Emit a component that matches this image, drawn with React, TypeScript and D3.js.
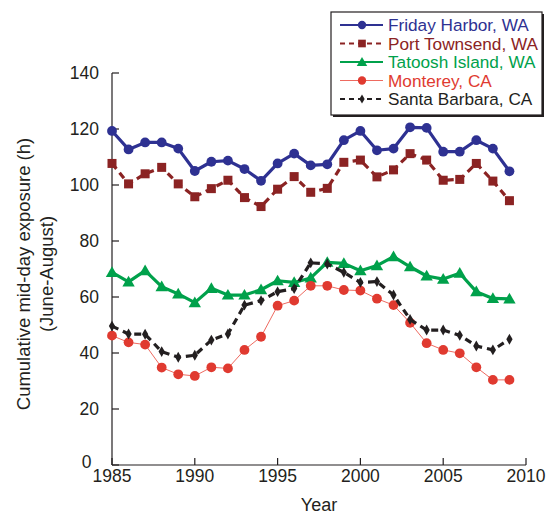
import React from "react";
import * as d3 from "d3";

const years = d3.range(1985, 2010);
const fridayHarbor = [119.3, 112.7, 115.2, 115.2, 113, 105, 108.3, 108.7, 105.7, 101.5, 107.7, 111.2, 107, 107.4, 116, 119.3, 112.4, 113, 120.6, 120.4, 111.9, 111.9, 116, 113, 104.9];
const portTownsend = [107.7, 100.4, 104, 106.3, 100.4, 95.8, 98.7, 101.7, 95.5, 92.3, 98.5, 103, 97.4, 98.8, 108.1, 108.9, 102.9, 105.4, 111.2, 108.9, 101.7, 102, 107.7, 101.4, 94.4];
const tatoosh = [68.8, 65.4, 69.4, 63.7, 61.1, 58, 63.1, 60.7, 60.7, 62.6, 65.8, 65.2, 66.8, 72.4, 72, 69.4, 71.2, 74.4, 70.8, 67.5, 66.4, 68.5, 61.9, 59.5, 59.3];
const monterey = [46.2, 43.8, 43, 34.8, 32.4, 31.8, 34.9, 34.5, 41.1, 45.8, 56.9, 58.7, 64, 64, 62.5, 62.3, 59.4, 57.1, 50.8, 43.5, 41.1, 39.9, 34.9, 30.4, 30.4];
const santaBarbara = [49.6, 46.8, 46.7, 40.5, 38.5, 39.2, 44.6, 46.8, 57.1, 58.7, 61.9, 63, 72.2, 71.8, 68.8, 65.2, 65.5, 60.7, 52, 48.2, 48.2, 46.3, 42.5, 41.1, 44.9];
const xTicks = [1985, 1990, 1995, 2000, 2005, 2010];
const yTicks = [0, 20, 40, 60, 80, 100, 120, 140];

type Series = { name: string; values: number[]; color: string; lineColor: string; width: number; dash?: string; marker: string };

const series: Series[] = [
  { name: "Friday Harbor, WA", values: fridayHarbor, color: "#2E3192", lineColor: "#2E3192", width: 3.2, marker: "circle" },
  { name: "Port Townsend, WA", values: portTownsend, color: "#8B2323", lineColor: "#8B2323", width: 3.2, dash: "7,5", marker: "square" },
  { name: "Tatoosh Island, WA", values: tatoosh, color: "#00A14B", lineColor: "#00A14B", width: 3.2, marker: "triangle" },
  { name: "Monterey, CA", values: monterey, color: "#E03A30", lineColor: "#EE6A60", width: 1, marker: "circle" },
  { name: "Santa Barbara, CA", values: santaBarbara, color: "#231F20", lineColor: "#231F20", width: 3.2, dash: "7,5", marker: "diamond" },
];

const FONT = "'Liberation Sans', Arial, Helvetica, sans-serif";
const FS = 17.5;

function Marker({ type, x, y, color, small }: { type: string; x: number; y: number; color: string; small?: boolean }) {
  const k = small ? 0.85 : 1;
  if (type === "circle") return <circle cx={x} cy={y} r={4.9 * k} fill={color} />;
  if (type === "square") {
    const s = 9 * k;
    return <rect x={x - s / 2} y={y - s / 2} width={s} height={s} fill={color} />;
  }
  if (type === "triangle") {
    const sym = d3.symbol(d3.symbolTriangle, 66 * k * k)();
    return <path d={sym || ""} transform={`translate(${x},${y + 1})`} fill={color} />;
  }
  const sym = d3.symbol(d3.symbolDiamond, 34 * k * k)();
  return <path d={sym || ""} transform={`translate(${x},${y})`} fill={color} />;
}

export default function App() {
  const width = 546;
  const height = 514;
  const x = d3.scaleLinear().domain([1985, 2010]).range([112, 526]);
  const y = d3.scaleLinear().domain([0, 140]).range([465, 73]);
  const line = d3.line<number>().x((_, i) => x(years[i])).y((d) => y(d));

  return (
    <svg width={width} height={height} style={{ position: "absolute", left: 0, top: 0 }} fontFamily={FONT}>
      <rect width={width} height={height} fill="#fff" />
      {/* axes */}
      <line x1={x(1985)} x2={x(1985)} y1={y(140)} y2={y(0)} stroke="#231F20" strokeWidth={1.2} />
      <line x1={x(1985)} x2={x(2010)} y1={y(0)} y2={y(0)} stroke="#231F20" strokeWidth={1.2} />
      {yTicks.map((t) => (
        <g key={t}>
          <line x1={x(1985)} x2={x(1985) + 7} y1={y(t)} y2={y(t)} stroke="#231F20" strokeWidth={1.2} />
          <text x={t === 0 ? 91.5 : 99} y={y(t) - (t === 0 ? 3 : 0)} dy="0.35em" textAnchor="end" fontSize={FS} fill="#231F20">{t}</text>
        </g>
      ))}
      {xTicks.map((t) => (
        <g key={t}>
          <line x1={x(t)} x2={x(t)} y1={y(0)} y2={y(0) - 7} stroke="#231F20" strokeWidth={1.2} />
          <text x={x(t)} y={482} textAnchor="middle" fontSize={FS} fill="#231F20">{t}</text>
        </g>
      ))}
      <text x={x(1997.5)} y={511} textAnchor="middle" fontSize={FS + 0.5} fill="#231F20">Year</text>
      <text transform={`translate(24,274) rotate(-90)`} textAnchor="middle" dy="0.35em" fontSize={18.5} fill="#231F20">Cumulative mid-day exposure (h)</text>
      <text transform={`translate(47,274) rotate(-90)`} textAnchor="middle" dy="0.35em" fontSize={18.5} fill="#231F20">(June-August)</text>

      {/* series */}
      {series.map((s) => (
        <g key={s.name}>
          <path d={line(s.values) || ""} fill="none" stroke={s.lineColor} strokeWidth={s.width} strokeDasharray={s.dash} strokeLinejoin="round" />
          {s.values.map((v, i) => (
            <Marker key={i} type={s.marker} x={x(years[i])} y={y(v)} color={s.color} />
          ))}
        </g>
      ))}

      {/* legend */}
      <rect x={333} y={14} width={211} height={103} fill="#231F20" />
      <rect x={331} y={12} width={211} height={103} fill="#fff" stroke="#231F20" strokeWidth={1.2} />
      {series.map((s, i) => {
        const cy = 25 + i * 18.5;
        return (
          <g key={s.name}>
            <line x1={340} x2={383} y1={cy} y2={cy} stroke={s.lineColor} strokeWidth={s.width === 1 ? 1.2 : 2.2} strokeDasharray={s.dash ? "5,4" : undefined} />
            <Marker type={s.marker} x={362} y={cy} color={s.color} small />
            <text x={388} y={cy} dy="0.35em" fontSize={17.2} fill={s.color}>{s.name}</text>
          </g>
        );
      })}
    </svg>
  );
}
